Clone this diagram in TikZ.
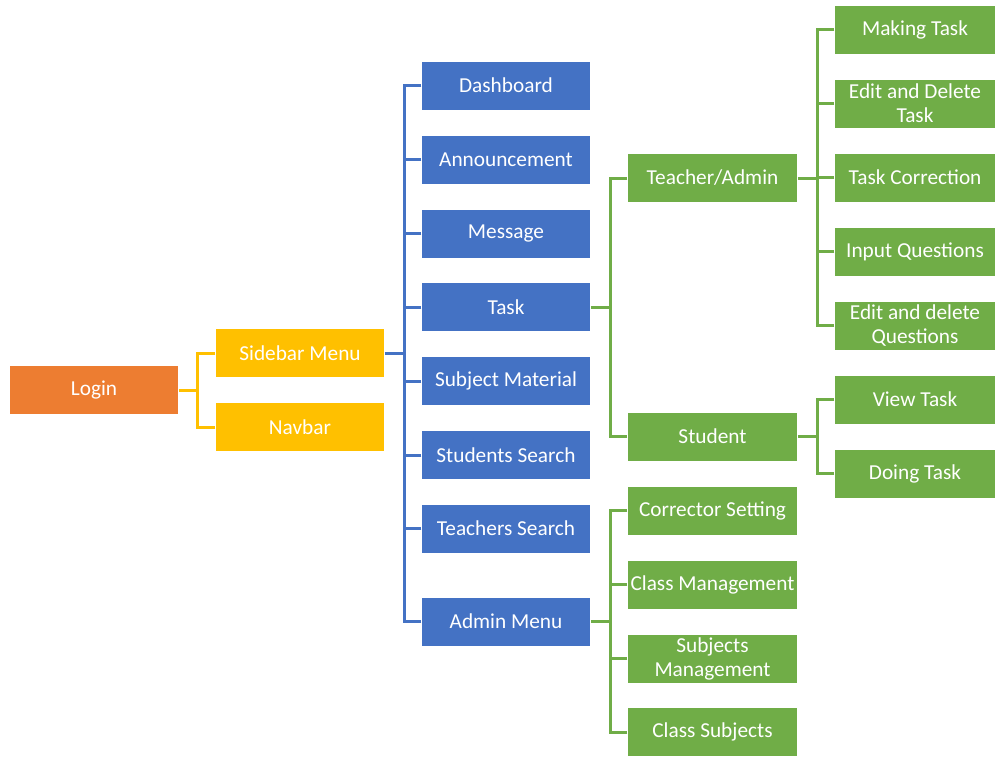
\documentclass[tikz,border=0pt]{standalone}
\usepackage{fontspec}
\setmainfont{Carlito}
\begin{document}
\begin{tikzpicture}[x=1pt,y=-1pt,
  bx/.style={draw=white,line width=0.5pt,minimum height=49pt,inner sep=0pt,align=center,text=white,
    font=\fontsize{21.3}{24}\selectfont},
  orangebox/.style={bx,fill=orgC,minimum width=169pt},
  yelbox/.style={bx,fill=yelC,minimum width=169pt},
  bluebox/.style={bx,fill=bluC,minimum width=169pt},
  grnbox/.style={bx,fill=grnC,minimum width=170pt},
  grnboxR/.style={bx,fill=grnC,minimum width=161pt},
  oline/.style={draw=yelC,line width=3pt},
  bline/.style={draw=bluC,line width=3pt},
  gline/.style={draw=grnC,line width=3pt}]
\definecolor{orgC}{HTML}{ED7D31}
\definecolor{yelC}{HTML}{FFC000}
\definecolor{bluC}{HTML}{4472C4}
\definecolor{grnC}{HTML}{70AD47}
\useasboundingbox (0,0) rectangle (995,756);
% nodes
\node[orangebox] (login) at (94,390) {Login};
\node[yelbox] (sidebar) at (300,353) {Sidebar Menu};
\node[yelbox] (navbar) at (300,427) {Navbar};
\node[bluebox] (dash) at (506,85.5) {Dashboard};
\node[bluebox] (ann) at (506,159.5) {Announcement};
\node[bluebox] (msg) at (506,233.5) {Message};
\node[bluebox] (task) at (506,307) {Task};
\node[bluebox] (subj) at (506,381) {Subject Material};
\node[bluebox] (stud) at (506,455) {Students Search};
\node[bluebox] (teach) at (506,528.5) {Teachers Search};
\node[bluebox] (admin) at (506,621.5) {Admin Menu};
\node[grnbox] (ta) at (712.5,178) {Teacher/Admin};
\node[grnbox] (st) at (712.5,436.5) {Student};
\node[grnbox] (cs) at (712.5,510.5) {Corrector Setting};
\node[grnbox] (cm) at (712.5,584.5) {Class Management};
\node[grnbox] (sm) at (712.5,658.5) {Subjects\\Management};
\node[grnbox] (csub) at (712.5,732) {Class Subjects};
\node[grnboxR] (mt) at (915,29.5) {Making Task};
\node[grnboxR] (edt) at (915,103.5) {Edit and Delete\\Task};
\node[grnboxR] (tc) at (915,177.5) {Task Correction};
\node[grnboxR] (iq) at (915,251.5) {Input Questions};
\node[grnboxR] (edq) at (915,325.5) {Edit and delete\\Questions};
\node[grnboxR] (vt) at (915,399.5) {View Task};
\node[grnboxR] (dt) at (915,473.5) {Doing Task};
% bus coordinates
\coordinate (ob) at (197,390);
\coordinate (bb) at (404,353);
\coordinate (gb1) at (610,307);
\coordinate (gb2) at (610,621.5);
\coordinate (rb1) at (817,178);
\coordinate (rb2) at (817,436.5);
% orange/yellow
\draw[oline] (login.east) -- (ob);
\foreach \n in {sidebar,navbar} \draw[oline] (\n.west) -| (ob);
% blue
\draw[bline] (sidebar.east) -- (bb);
\foreach \n in {dash,ann,msg,task,subj,stud,teach,admin} \draw[bline] (\n.west) -| (bb);
% green mid
\draw[gline] (task.east) -- (gb1);
\foreach \n in {ta,st} \draw[gline] (\n.west) -| (gb1);
\draw[gline] (admin.east) -- (gb2);
\foreach \n in {cs,cm,sm,csub} \draw[gline] (\n.west) -| (gb2);
% green right
\draw[gline] (ta.east) -- (rb1);
\foreach \n in {mt,edt,tc,iq,edq} \draw[gline] (\n.west) -| (rb1);
\draw[gline] (st.east) -- (rb2);
\foreach \n in {vt,dt} \draw[gline] (\n.west) -| (rb2);
\end{tikzpicture}
\end{document}
